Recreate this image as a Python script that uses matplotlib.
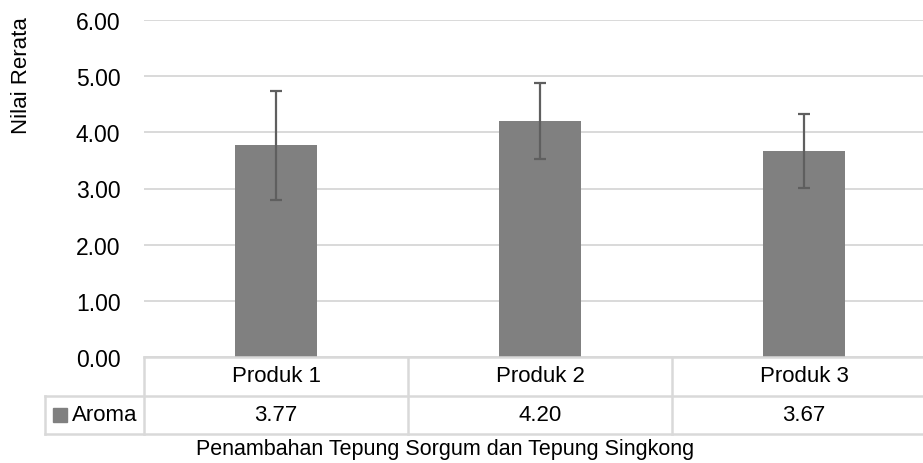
import matplotlib
matplotlib.use('Agg')
import matplotlib.pyplot as plt
from matplotlib.lines import Line2D
from matplotlib.patches import Rectangle
from matplotlib.transforms import blended_transform_factory

# Data
categories = ['Produk 1', 'Produk 2', 'Produk 3']
aroma = [3.77, 4.20, 3.67]
aroma_err = [0.97, 0.67, 0.66]
y_ticks = [0, 1, 2, 3, 4, 5, 6]
series_name = 'Aroma'
x_title = 'Penambahan Tepung Sorgum dan Tepung Singkong'
y_title = 'Nilai Rerata'

plt.rcParams['font.family'] = ['Liberation Sans Narrow', 'Liberation Sans', 'DejaVu Sans']
FS = 16
W, H = 923, 464
bar_color = '#808080'
grid_color = '#d9d9d9'

fig = plt.figure(figsize=(W / 100, H / 100), dpi=100)

def fx(px):
    return px / W

def fy(py):
    return 1 - py / H

# plot area (extends a bit past right edge, like the original crop)
ax = fig.add_axes([fx(144), fy(358), fx(936) - fx(144), fy(21) - fy(358)])
x = list(range(len(categories)))
ax.bar(x, aroma, width=0.31, color=bar_color, zorder=3)
ax.errorbar(x, aroma, yerr=aroma_err, fmt='none', ecolor='#5f5f5f',
            elinewidth=1.6, capsize=4.5, capthick=1.6, zorder=4)

ax.set_xlim(-0.5, len(categories) - 0.5)
ax.set_ylim(0, 6)
ax.set_yticks(y_ticks)
ax.set_yticklabels([f'{t:.2f}' for t in y_ticks], fontsize=FS + 0.5)
ax.set_xticks([])
ax.tick_params(axis='y', length=0, pad=17)
ax.yaxis.grid(True, color=grid_color, linewidth=1.4, zorder=0)
ax.set_axisbelow(True)
for s in ax.spines.values():
    s.set_visible(False)

fig.text(fx(22), fy(76), y_title, rotation=90, ha='center', va='center', fontsize=FS)

# data table under the chart
trans = blended_transform_factory(ax.transData, fig.transFigure)
lc = grid_color
lw = 1.8
fig.add_artist(Line2D([fx(144), fx(936)], [fy(358), fy(358)], color=lc, lw=lw))
for yy in (397, 435):
    fig.add_artist(Line2D([fx(45), fx(936)], [fy(yy), fy(yy)], color=lc, lw=lw))
fig.add_artist(Line2D([fx(45), fx(45)], [fy(397), fy(435)], color=lc, lw=lw))
for i in range(len(categories) + 1):
    ax.add_artist(Line2D([i - 0.5, i - 0.5], [fy(358), fy(435)], color=lc, lw=lw,
                         transform=trans, clip_on=False))

for i, (c, v) in enumerate(zip(categories, aroma)):
    ax.text(i, fy(377), c, transform=trans, ha='center', va='center', fontsize=FS)
    ax.text(i, fy(416), f'{v:.2f}', transform=trans, ha='center', va='center', fontsize=FS)

fig.add_artist(Rectangle((fx(53), fy(423)), fx(14), fy(409) - fy(423),
                         color=bar_color, transform=fig.transFigure))
fig.text(fx(72), fy(416), series_name, ha='left', va='center', fontsize=FS)

fig.text(fx(445), fy(450), x_title, ha='center', va='center', fontsize=FS - 0.5)

fig.savefig('out.png', dpi=100)
